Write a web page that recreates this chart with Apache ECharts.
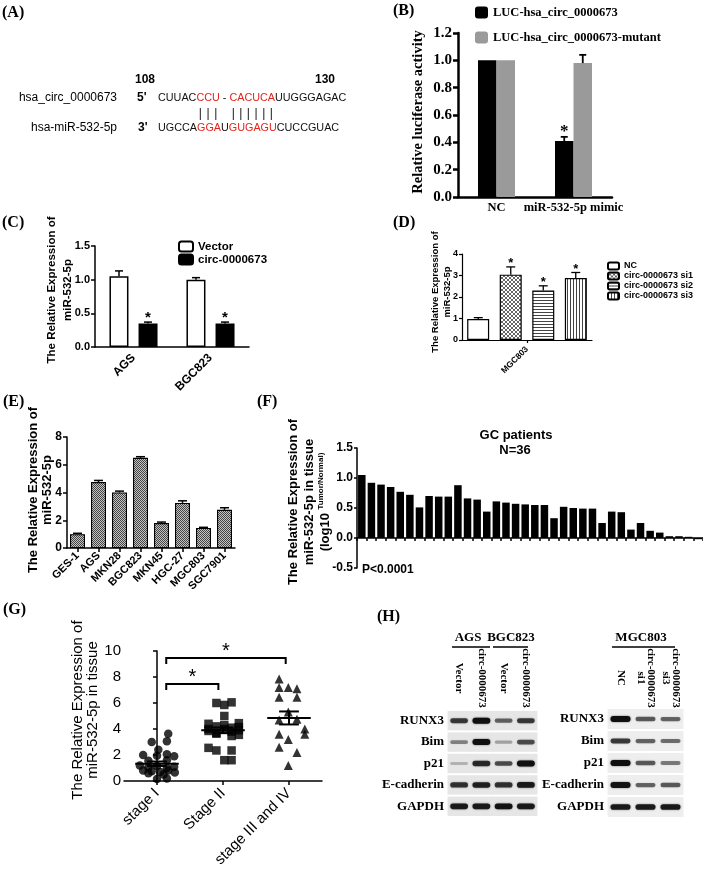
<!DOCTYPE html>
<html>
<head>
<meta charset="utf-8">
<script src="https://cdn.jsdelivr.net/npm/echarts@6.0.0/dist/echarts.min.js"></script>
<style>
html,body{margin:0;padding:0;background:#fff;}
#chart{width:703px;height:869px;}
</style>
</head>
<body>
<div id="chart"></div>
<script>
// ---------------- DATA ----------------
const seqCircName = 'hsa_circ_0000673';
const seqMirName = 'hsa-miR-532-5p';
const seqCircStart = '108';
const seqCircEnd = '130';
const seqCircParts = [['CUUAC','k'],['CCU','r'],[' - ','k'],['CACUCA','r'],['UUGGGAGAC','k']];
const seqMirParts = [['UGCCA','k'],['GGA','r'],['U','k'],['GUGAGU','r'],['CUCCGUAC','k']];

const bCategories = ['NC', 'miR-532-5p mimic'];
const bSeriesNames = ['LUC-hsa_circ_0000673', 'LUC-hsa_circ_0000673-mutant'];
const bWild = [1.0, 0.41];
const bWildErr = [0, 0.03];
const bWildStar = [0, 1];
const bMutant = [1.0, 0.98];
const bMutantErr = [0, 0.06];
const bMutantStar = [0, 0];

const cCategories = ['AGS', 'BGC823'];
const cSeriesNames = ['Vector', 'circ-0000673'];
const cVector = [1.05, 1.0];
const cVectorErr = [0.08, 0.03];
const cCirc = [0.35, 0.35];
const cCircErr = [0.02, 0.02];
const cCircStar = [1, 1];

const dCategories = ['MGC803'];
const dSeriesNames = ['NC', 'circ-0000673 si1', 'circ-0000673 si2', 'circ-0000673 si3'];
const dValues = [0.98, 3.04, 2.30, 2.88];
const dErr = [0.06, 0.36, 0.22, 0.26];
const dStar = [0, 1, 1, 1];

const eCategories = ['GES-1', 'AGS', 'MKN28', 'BGC823', 'MKN45', 'HGC-27', 'MGC803', 'SGC7901'];
const eValues = [1.0, 4.75, 4.0, 6.5, 1.8, 3.25, 1.45, 2.75];
const eErr = [0.06, 0.12, 0.1, 0.08, 0.07, 0.15, 0.04, 0.15];

const fValues = [1.05, 0.92, 0.89, 0.85, 0.77, 0.72, 0.51, 0.70, 0.69, 0.69, 0.88, 0.66,
                 0.64, 0.44, 0.61, 0.59, 0.57, 0.56, 0.55, 0.55, 0.33, 0.52, 0.50, 0.49,
                 0.49, 0.25, 0.44, 0.43, 0.14, 0.25, 0.12, 0.09, 0.03, 0.03, 0.02, -0.02];
const fCategories = fValues.map((v, i) => String(i + 1));

const gCategories = ['stage I', 'Stage II', 'stage III and IV'];
const gStageI  = [3.64, 3.0, 3.05, 2.4, 2.0, 1.95, 2.05, 1.9, 1.55, 1.6, 1.2, 1.05, 1.15, 1.0, 1.1, 0.8, 0.75, 0.7, 0.8, 0.65, 0.6, 0.5, 0.15, 0.2];
const gStageIX = [0.17, -0.08, 0.15, 0.02, -0.21, 0.0, 0.15, 0.26, -0.13, 0.15, -0.26, -0.13, 0.0, 0.15, 0.26, -0.21, -0.08, 0.05, 0.17, 0.27, -0.13, 0.1, 0.0, 0.15];
const gStageII  = [6.0, 5.85, 6.05, 5.0, 4.4, 4.45, 4.2, 4.1, 4.3, 4.0, 3.9, 3.8, 3.7, 3.64, 3.46, 3.55, 2.55, 2.35, 2.35, 1.6, 1.6, 4.0, 3.85, 4.15];
const gStageIIX = [-0.1, 0.02, 0.13, 0.02, -0.22, 0.24, -0.1, 0.13, 0.02, -0.22, 0.24, 0.13, -0.1, -0.1, 0.13, 0.24, -0.22, -0.1, 0.13, 0.02, 0.13, 0.02, -0.22, 0.24];
const gStageIII  = [7.85, 7.2, 7.2, 7.1, 6.45, 6.45, 5.3, 4.75, 4.7, 4.0, 3.6, 3.6, 3.2, 2.6, 2.2, 1.2];
const gStageIIIX = [-0.15, -0.15, -0.01, 0.12, -0.15, 0.12, -0.01, 0.12, -0.15, 0.24, -0.15, 0.24, -0.01, -0.15, 0.12, -0.01];
const gMeans = [1.33, 3.9, 4.85];
const gSem = [0.17, 0.22, 0.5];
const gBrackets = [[0.14, 0.93, 7.46, 7.0], [0.14, 1.95, 9.46, 9.0]];

const hProteins = ['RUNX3', 'Bim', 'p21', 'E-cadherin', 'GAPDH'];
const hLeftLanes = ['Vector', 'circ-0000673', 'Vector', 'circ-0000673'];
const hRightLanes = ['NC', 'circ-0000673\nsi1', 'circ-0000673\nsi3'];
const hLeftBands = [[0.7, 1.0, 0.5, 0.7], [0.35, 1.0, 0.2, 0.6], [0.12, 0.8, 0.6, 1.0], [0.75, 0.85, 0.75, 0.9], [0.9, 0.9, 0.95, 0.9]];
const hRightBands = [[1.0, 0.55, 0.5], [0.7, 0.5, 0.45], [1.0, 0.55, 0.4], [0.95, 0.5, 0.55], [0.9, 0.9, 0.9]];
const hGroups = ['AGS', 'BGC823', 'MGC803'];

// ---------------- STYLE HELPERS ----------------
const SERIF = '"Liberation Serif","Times New Roman",serif';
const SANS = '"Liberation Sans",Arial,sans-serif';
const SEQ_FONT = '10.8px ' + SANS;
const SEQ_X = 158;

function pat(w, h, draw) {
  const c = document.createElement('canvas'); c.width = w; c.height = h;
  draw(c.getContext('2d'));
  return { image: c, repeat: 'repeat' };
}
const patCheck = pat(2, 2, g => { g.fillStyle = '#c4c4c4'; g.fillRect(0, 0, 2, 2); g.fillStyle = '#444'; g.fillRect(0, 0, 1, 1); g.fillRect(1, 1, 1, 1); });
const patCross = pat(4, 4, g => { g.fillStyle = '#fff'; g.fillRect(0, 0, 4, 4); g.fillStyle = '#666'; for (let i = 0; i < 4; i++) { g.fillRect(i, i, 1, 1); g.fillRect(3 - i, i, 1, 1); } });
const patHoriz = pat(3, 3, g => { g.fillStyle = '#fff'; g.fillRect(0, 0, 3, 3); g.fillStyle = '#444'; g.fillRect(0, 0, 3, 1); });
const patVert = pat(3, 3, g => { g.fillStyle = '#fff'; g.fillRect(0, 0, 3, 3); g.fillStyle = '#444'; g.fillRect(0, 0, 1, 3); });

function T(x, y, text, font, o) {
  o = o || {};
  return { type: 'text', x: x, y: y, rotation: o.rot || 0, silent: true, z: 10,
    style: Object.assign({ text: text, font: font, fill: o.fill || '#000', align: o.align || 'left', verticalAlign: o.va || 'middle' }, o.style || {}) };
}
function L(x1, y1, x2, y2, w) {
  return { type: 'line', silent: true, shape: { x1, y1, x2, y2 }, style: { stroke: '#000', lineWidth: w || 1.5 } };
}
function seqRich(parts) {
  return parts.map(p => '{' + p[1] + '|' + p[0] + '}').join('');
}
// pairing marks: one '|' under each red (paired) base of the circRNA row
function pairMarkElements(parts, y) {
  const ctx = document.createElement('canvas').getContext('2d');
  ctx.font = SEQ_FONT;
  const out = [];
  let prefix = '';
  parts.forEach(p => {
    for (const ch of p[0]) {
      if (p[1] === 'r') {
        const cx = SEQ_X + ctx.measureText(prefix).width + ctx.measureText(ch).width / 2;
        out.push(T(cx, y, '|', '12px ' + SANS, { align: 'center', fill: '#111' }));
      }
      prefix += ch;
    }
  });
  return out;
}

function errorSeries(xi, yi, values, errs, stars, offset, capW, lw, starFont, starGap) {
  return {
    type: 'custom', xAxisIndex: xi, yAxisIndex: yi, z: 5, silent: true, clip: false,
    data: values.map((v, i) => [i, v, errs[i], stars ? stars[i] : 0]),
    encode: { x: 0, y: 1 },
    renderItem: function (params, api) {
      const i = api.value(0), v = api.value(1), e = api.value(2), s = api.value(3);
      const p0 = api.coord([i, v]), p1 = api.coord([i, v + e]);
      const x = p0[0] + offset;
      const ch = [];
      if (e > 0) {
        ch.push({ type: 'line', shape: { x1: x, y1: p0[1], x2: x, y2: p1[1] }, style: { stroke: '#000', lineWidth: lw } });
        ch.push({ type: 'line', shape: { x1: x - capW / 2, y1: p1[1], x2: x + capW / 2, y2: p1[1] }, style: { stroke: '#000', lineWidth: lw } });
      }
      if (s) ch.push({ type: 'text', x: x, y: p1[1] - starGap, style: { text: '*', font: starFont, fill: '#000', align: 'center', verticalAlign: 'middle' } });
      return { type: 'group', children: ch };
    }
  };
}

function valueAxis(grid, min, max, interval, o) {
  return {
    type: 'value', gridIndex: grid, min: min, max: max, interval: interval,
    axisLine: { show: true, lineStyle: { color: '#000', width: o.lw } },
    axisTick: { show: true, length: o.tick, lineStyle: { color: '#000', width: o.lw } },
    splitLine: { show: false },
    axisLabel: { color: '#000', fontFamily: o.family, fontWeight: o.weight, fontSize: o.size, margin: o.margin,
      formatter: o.fmt || (v => String(v)) }
  };
}
function catAxis(grid, data, o) {
  return {
    type: 'category', gridIndex: grid, data: data,
    axisLine: { show: true, onZero: o.onZero !== undefined ? o.onZero : false, lineStyle: { color: '#000', width: o.lw } },
    axisTick: { show: !!o.tick, length: o.tick || 0, alignWithLabel: !!o.align, interval: 0, lineStyle: { color: '#000', width: o.lw } },
    splitLine: { show: false },
    axisLabel: { show: o.labels !== false, interval: 0, rotate: o.rotate || 0, color: '#000', fontFamily: o.family, fontWeight: o.weight,
      fontSize: o.size, margin: o.margin }
  };
}

function blotRender(bg) {
  return function (params, api) {
    const lane = api.value(0), row = api.value(1), v = api.value(2);
    const c = api.coord([lane, row]);
    const sz = api.size([1, 1]);
    const w = sz[0], h = sz[1];
    const bw = w * 0.8, bh = 2.5 + 3.5 * v;
    return { type: 'group', children: [
      { type: 'rect', shape: { x: c[0] - w / 2 - 0.5, y: c[1] - h / 2 + 1, width: w + 1, height: h - 2 }, style: { fill: bg } },
      { type: 'rect', shape: { x: c[0] - bw / 2, y: c[1] - bh / 2, width: bw, height: bh, r: bh / 2 },
        style: { fill: 'rgba(15,15,15,' + (0.12 + 0.88 * v).toFixed(2) + ')', shadowBlur: 2, shadowColor: 'rgba(0,0,0,' + (0.6 * v).toFixed(2) + ')' } }
    ] };
  };
}

// ---------------- OPTION ----------------
const grids = [
  { left: 458, top: 33, width: 154, height: 164 },   // B
  { left: 95, top: 246, width: 154, height: 101 },   // C
  { left: 462, top: 254, width: 130, height: 86 },   // D
  { left: 67, top: 437, width: 168, height: 111 },   // E
  { left: 357, top: 448, width: 346, height: 120 },  // F
  { left: 124, top: 651, width: 198, height: 130 },  // G
  { left: 448, top: 710, width: 89, height: 107 },   // H left
  { left: 608, top: 708, width: 75, height: 110 }    // H right
].map(g => Object.assign({ containLabel: false, outerBoundsMode: 'none', show: false }, g));

const xAxes = [
  catAxis(0, bCategories, { lw: 2.5, family: SERIF, weight: 'bold', size: 12.5, margin: 4 }),
  catAxis(1, cCategories, { lw: 1.5, family: SANS, weight: 'bold', size: 12, margin: 9, rotate: 45 }),
  catAxis(2, dCategories, { lw: 1.2, family: SANS, weight: 'bold', size: 8.5, margin: 8, rotate: 45, tick: 3, align: true }),
  catAxis(3, eCategories, { lw: 1.5, family: SANS, weight: 'bold', size: 11, margin: 6, rotate: 45, tick: 4, align: true }),
  catAxis(4, fCategories, { lw: 1.5, family: SANS, weight: 'bold', size: 10, margin: 5, tick: 3, labels: false, onZero: true }),
  catAxis(5, gCategories, { lw: 1.5, family: SANS, weight: 'normal', size: 15, margin: 10, rotate: 45, tick: 4, align: true }),
  { type: 'value', gridIndex: 5, min: -0.5, max: 2.5, show: false },
  { type: 'category', gridIndex: 6, position: 'top', data: hLeftLanes, axisLine: { show: false }, axisTick: { show: false },
    axisLabel: { interval: 0, rotate: 90, margin: 32, align: 'center', verticalAlign: 'middle', color: '#000', fontFamily: SERIF, fontWeight: 'bold', fontSize: 11, lineHeight: 10 } },
  { type: 'category', gridIndex: 7, position: 'top', data: hRightLanes, axisLine: { show: false }, axisTick: { show: false },
    axisLabel: { interval: 0, rotate: 90, margin: 30, align: 'center', verticalAlign: 'middle', color: '#000', fontFamily: SERIF, fontWeight: 'bold', fontSize: 11, lineHeight: 10 } }
];

const yAxes = [
  valueAxis(0, 0, 1.2, 0.2, { lw: 2.5, tick: 5, family: SERIF, weight: 'bold', size: 15, margin: 6, fmt: v => v.toFixed(1) }),
  valueAxis(1, 0, 1.5, 0.5, { lw: 1.5, tick: 4, family: SANS, weight: 'bold', size: 11, margin: 5, fmt: v => v.toFixed(1) }),
  valueAxis(2, 0, 4, 1, { lw: 1.2, tick: 3, family: SANS, weight: 'bold', size: 9, margin: 4 }),
  valueAxis(3, 0, 8, 2, { lw: 1.5, tick: 4, family: SANS, weight: 'bold', size: 12, margin: 5 }),
  valueAxis(4, -0.5, 1.5, 0.5, { lw: 1.5, tick: 3, family: SANS, weight: 'bold', size: 12, margin: 4, fmt: v => v.toFixed(1) }),
  valueAxis(5, 0, 10, 2, { lw: 1.5, tick: 4, family: SANS, weight: 'normal', size: 15, margin: 3 }),
  { type: 'category', gridIndex: 6, inverse: true, data: hProteins, axisLine: { show: false }, axisTick: { show: false },
    axisLabel: { interval: 0, margin: 4, color: '#000', fontFamily: SERIF, fontWeight: 'bold', fontSize: 13 } },
  { type: 'category', gridIndex: 7, inverse: true, data: hProteins, axisLine: { show: false }, axisTick: { show: false },
    axisLabel: { interval: 0, margin: 4, color: '#000', fontFamily: SERIF, fontWeight: 'bold', fontSize: 13 } }
];

const series = [];
// B
series.push({ type: 'bar', name: bSeriesNames[0], xAxisIndex: 0, yAxisIndex: 0, data: bWild, barWidth: 18.5, barGap: '0%', itemStyle: { color: '#000' } });
series.push({ type: 'bar', name: bSeriesNames[1], xAxisIndex: 0, yAxisIndex: 0, data: bMutant, barWidth: 18.5, barGap: '0%', itemStyle: { color: '#9a9a9a' } });
series.push(errorSeries(0, 0, bWild, bWildErr, bWildStar, -9.25, 7, 1.8, 'bold 17px ' + SERIF, 5));
series.push(errorSeries(0, 0, bMutant, bMutantErr, bMutantStar, 9.25, 7, 1.8, 'bold 17px ' + SERIF, 5));
// C
series.push({ type: 'bar', name: cSeriesNames[0], xAxisIndex: 1, yAxisIndex: 1, data: cVector, barWidth: 19, barGap: '53%', itemStyle: { color: '#fff', borderColor: '#000', borderWidth: 1.5 } });
series.push({ type: 'bar', name: cSeriesNames[1], xAxisIndex: 1, yAxisIndex: 1, data: cCirc, barWidth: 19, barGap: '53%', itemStyle: { color: '#000', borderColor: '#000', borderWidth: 1.5 } });
series.push(errorSeries(1, 1, cVector, cVectorErr, null, -14.5, 8, 1.5, 'bold 15px ' + SANS, 4));
series.push(errorSeries(1, 1, cCirc, cCircErr, cCircStar, 14.5, 8, 1.5, 'bold 15px ' + SANS, 4));
// D
const dFills = ['#fff', patCross, patHoriz, patVert];
const dOffsets = [-48.75, -16.25, 16.25, 48.75];
dSeriesNames.forEach((n, k) => {
  series.push({ type: 'bar', name: n, xAxisIndex: 2, yAxisIndex: 2, data: [dValues[k]], barWidth: 22, barGap: '48%',
    itemStyle: { color: dFills[k], borderColor: '#000', borderWidth: 1.2 } });
});
dSeriesNames.forEach((n, k) => {
  series.push(errorSeries(2, 2, [dValues[k]], [dErr[k]], [dStar[k]], dOffsets[k], 9, 1.3, 'bold 13px ' + SANS, 3));
});
// E
series.push({ type: 'bar', name: 'eBars', xAxisIndex: 3, yAxisIndex: 3, data: eValues, barWidth: 15, itemStyle: { color: patCheck, borderColor: '#000', borderWidth: 1.1 } });
series.push(errorSeries(3, 3, eValues, eErr, null, 0, 9, 1.5, '', 0));
// F
series.push({ type: 'bar', name: 'fBars', xAxisIndex: 4, yAxisIndex: 4, data: fValues, barWidth: 7.5, itemStyle: { color: '#000' } });
// G
const gSymbols = ['circle', 'rect', 'triangle'];
[[gStageI, gStageIX], [gStageII, gStageIIX], [gStageIII, gStageIIIX]].forEach((arr, k) => {
  series.push({ type: 'scatter', name: gCategories[k], xAxisIndex: 6, yAxisIndex: 5, symbol: gSymbols[k], symbolSize: k === 2 ? 9 : 8.5,
    itemStyle: { color: '#000' }, data: arr[0].map((v, i) => [k + arr[1][i], v]) });
});
series.push({
  type: 'custom', xAxisIndex: 6, yAxisIndex: 5, z: 6, silent: true, clip: false,
  data: gMeans.map((m, i) => [i, m, gSem[i]]), encode: { x: 0, y: 1 },
  renderItem: function (params, api) {
    const i = api.value(0), m = api.value(1), s = api.value(2);
    const a = api.coord([i - 0.33, m]), b = api.coord([i + 0.33, m]);
    const hi = api.coord([i, m + s]), lo = api.coord([i, m - s]);
    const cl = api.coord([i - 0.15, m])[0], cr = api.coord([i + 0.15, m])[0];
    return { type: 'group', children: [
      { type: 'line', shape: { x1: a[0], y1: a[1], x2: b[0], y2: b[1] }, style: { stroke: '#000', lineWidth: 2 } },
      { type: 'line', shape: { x1: hi[0], y1: hi[1], x2: lo[0], y2: lo[1] }, style: { stroke: '#000', lineWidth: 2 } },
      { type: 'line', shape: { x1: cl, y1: hi[1], x2: cr, y2: hi[1] }, style: { stroke: '#000', lineWidth: 2 } },
      { type: 'line', shape: { x1: cl, y1: lo[1], x2: cr, y2: lo[1] }, style: { stroke: '#000', lineWidth: 2 } }
    ] };
  }
});
series.push({
  type: 'custom', xAxisIndex: 6, yAxisIndex: 5, z: 6, silent: true, clip: false,
  data: gBrackets, encode: { x: 0, y: 2 },
  renderItem: function (params, api) {
    const x1 = api.value(0), x2 = api.value(1), yt = api.value(2), yd = api.value(3);
    const p1 = api.coord([x1, yt]), p2 = api.coord([x2, yt]), d1 = api.coord([x1, yd]), d2 = api.coord([x2, yd]);
    const mid = api.coord([(x1 + x2) / 2, yt]);
    return { type: 'group', children: [
      { type: 'polyline', shape: { points: [d1, p1, p2, d2] }, style: { stroke: '#000', lineWidth: 2, fill: null } },
      { type: 'text', x: mid[0], y: mid[1] - 7, style: { text: '*', font: '20px ' + SANS, fill: '#000', align: 'center', verticalAlign: 'middle' } }
    ] };
  }
});
// H
series.push({ type: 'custom', xAxisIndex: 7, yAxisIndex: 6, silent: true, renderItem: blotRender('#e6e6e6'), encode: { x: 0, y: 1 },
  data: hLeftBands.flatMap((row, r) => row.map((v, l) => [l, r, v])) });
series.push({ type: 'custom', xAxisIndex: 8, yAxisIndex: 7, silent: true, renderItem: blotRender('#eeeeee'), encode: { x: 0, y: 1 },
  data: hRightBands.flatMap((row, r) => row.map((v, l) => [l, r, v])) });

const legends = [
  { left: 470, top: 1, orient: 'vertical', selectedMode: false, itemWidth: 13, itemHeight: 12, itemGap: 12, data: bSeriesNames,
    textStyle: { color: '#000', fontFamily: SERIF, fontWeight: 'bold', fontSize: 12.5 } },
  { left: 173, top: 235.5, orient: 'vertical', selectedMode: false, itemWidth: 14, itemHeight: 10, itemGap: 1, data: cSeriesNames,
    textStyle: { color: '#000', fontFamily: SANS, fontWeight: 'bold', fontSize: 11.5, lineHeight: 10 } },
  { left: 602, top: 256.5, orient: 'vertical', selectedMode: false, itemWidth: 11, itemHeight: 7, itemGap: 1, data: dSeriesNames,
    textStyle: { color: '#000', fontFamily: SANS, fontWeight: 'bold', fontSize: 9, lineHeight: 7 } }
];

const R = Math.PI / 2;
const seqRichStyle = { rich: { k: { fill: '#111', fontSize: 10.8, fontFamily: SANS }, r: { fill: '#e3241d', fontSize: 10.8, fontFamily: SANS } } };
const graphics = [
  // panel letters
  T(2, 13, '(A)', 'bold 16px ' + SERIF), T(393, 11, '(B)', 'bold 16px ' + SERIF),
  T(2, 223, '(C)', 'bold 16px ' + SERIF), T(393, 223, '(D)', 'bold 16px ' + SERIF),
  T(3, 402, '(E)', 'bold 16px ' + SERIF), T(257, 402, '(F)', 'bold 16px ' + SERIF),
  T(3, 610, '(G)', 'bold 16px ' + SERIF), T(377, 617, '(H)', 'bold 16px ' + SERIF),
  // panel A
  T(135, 80, seqCircStart, 'bold 12px ' + SANS), T(315, 80, seqCircEnd, 'bold 12px ' + SANS),
  T(117, 98, seqCircName, '12px ' + SANS, { align: 'right' }), T(117, 128, seqMirName, '12px ' + SANS, { align: 'right' }),
  T(137, 98, "5'", 'bold 12px ' + SANS), T(138, 128, "3'", 'bold 12px ' + SANS),
  T(SEQ_X, 98, seqRich(seqCircParts), SEQ_FONT, { style: seqRichStyle }),
  T(SEQ_X, 128, seqRich(seqMirParts), SEQ_FONT, { style: seqRichStyle }),
  ...pairMarkElements(seqCircParts, 114),
  // axis titles
  T(418, 112, 'Relative luciferase activity', 'bold 14.5px ' + SERIF, { rot: R, align: 'center' }),
  T(60, 290, 'The Relative Expression of\nmiR-532-5p', 'bold 11.5px ' + SANS, { rot: R, align: 'center', style: { lineHeight: 16 } }),
  T(441, 292, 'The Relative Expression of\nmiR-532-5p', 'bold 9.5px ' + SANS, { rot: R, align: 'center', style: { lineHeight: 12 } }),
  T(40, 490, 'The Relative Expression of\nmiR-532-5p', 'bold 13px ' + SANS, { rot: R, align: 'center', style: { lineHeight: 14 } }),
  T(309, 502, '{m|The Relative Expression of}\n{m|miR-532-5p in tissue}\n{m|(log10 }{s|Tumor/Normal)}', 'bold 13px ' + SANS,
    { rot: R, align: 'center', style: { lineHeight: 16, rich: {
      m: { fontSize: 13, fontWeight: 'bold', fontFamily: SANS, fill: '#000', lineHeight: 16 },
      s: { fontSize: 8, fontWeight: 'bold', fontFamily: SANS, fill: '#000', verticalAlign: 'top', lineHeight: 16 } } } }),
  T(85.5, 710, 'The Relative Expression of\nmiR-532-5p in tissue', '15px ' + SANS, { rot: R, align: 'center', style: { lineHeight: 15 } }),
  // F annotations
  T(516, 435, 'GC patients', 'bold 13px ' + SANS, { align: 'center' }),
  T(515, 450, 'N=36', 'bold 13px ' + SANS, { align: 'center' }),
  T(362, 570, 'P<0.0001', 'bold 12px ' + SANS),
  // H group headers
  T(468, 638, hGroups[0], 'bold 13px ' + SERIF, { align: 'center' }),
  T(511, 638, hGroups[1], 'bold 13px ' + SERIF, { align: 'center' }),
  T(641, 638, hGroups[2], 'bold 13px ' + SERIF, { align: 'center' }),
  L(452, 647, 490, 647, 1.5), L(493, 647, 528, 647, 1.5), L(612, 647, 675, 647, 1.5)
];

const option = {
  animation: false,
  backgroundColor: '#fff',
  textStyle: { fontFamily: SANS },
  grid: grids,
  xAxis: xAxes,
  yAxis: yAxes,
  legend: legends,
  series: series,
  graphic: { elements: graphics }
};

const chart = echarts.init(document.getElementById('chart'), null, { renderer: 'canvas', width: 703, height: 869 });
chart.setOption(option);
</script>
</body>
</html>
